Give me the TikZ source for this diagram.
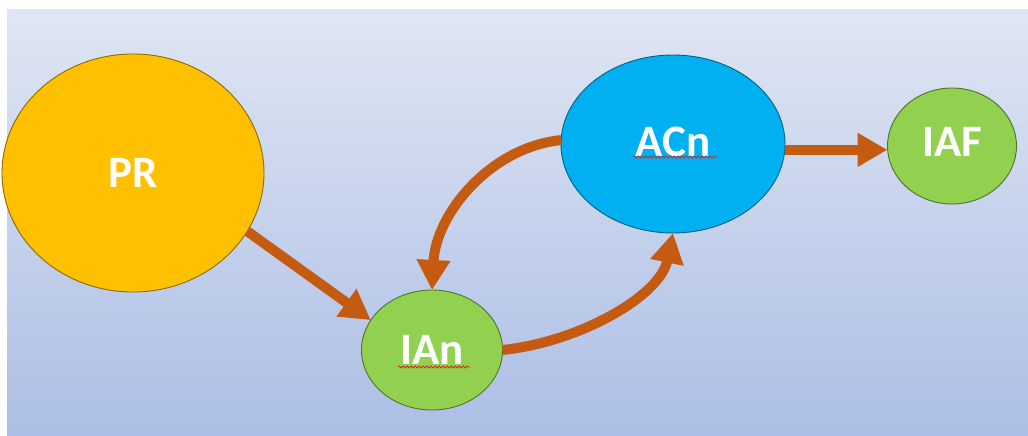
\documentclass[tikz,border=0pt]{standalone}
\usepackage{fontspec}
\newfontfamily\lblfont{Carlito}
\usetikzlibrary{shapes.geometric,arrows.meta,decorations.pathmorphing}
\definecolor{bgtop}{RGB}{223,230,243}
\definecolor{bgbot}{RGB}{172,190,229}
\definecolor{prfill}{RGB}{255,192,0}
\definecolor{grfill}{RGB}{146,208,80}
\definecolor{blfill}{RGB}{0,176,240}
\definecolor{arr}{RGB}{197,90,17}
\definecolor{squig}{RGB}{210,40,40}
\tikzset{
  blob/.style={ellipse, inner sep=0pt, outer sep=0pt, line width=0.9pt,
    text=white, font=\lblfont\bfseries\fontsize{45}{50}\selectfont},
  flow/.style={draw=arr, line width=10pt,
    -{Triangle[length=30pt,width=32pt]}},
  spell/.style={draw=squig, line width=0.8pt,
    decorate, decoration={snake, segment length=4pt, amplitude=1pt}}
}
\begin{document}
\begin{tikzpicture}[x=1pt,y=-1pt]
\useasboundingbox (0,0) rectangle (1028,436);
\fill[white] (0,0) rectangle (1028,436);
\shade[top color=bgtop, bottom color=bgbot] (7,10) rectangle (1028,436);
\begin{scope}
\clip (0,0) rectangle (1028,436);
\node[blob, fill=prfill, draw=prfill!55!black, minimum width=262pt, minimum height=238pt] (pr) at (133,173) {PR};
\end{scope}
\node[blob, fill=grfill, draw=grfill!55!black, minimum width=141pt, minimum height=120pt] (ian) at (432,350) {IAn};
\node[blob, fill=blfill, draw=blfill!55!black, minimum width=224pt, minimum height=178pt] (acn) at (673,144) {\raisebox{5pt}{ACn}};
\node[blob, fill=grfill, draw=grfill!55!black, minimum width=129pt, minimum height=116pt] (iaf) at (952,146) {\raisebox{8pt}{IAF}};
% spell-check underlines
\draw[spell] ([xshift=-34pt,yshift=-17pt]ian.center) -- ([xshift=38pt,yshift=-17pt]ian.center);
\draw[spell] ([xshift=-40pt,yshift=-13pt]acn.center) -- ([xshift=44pt,yshift=-13pt]acn.center);
% connectors
\draw[flow] (pr.-27) -- (ian.154);
\draw[flow] (acn.178) .. controls +(-70,7) and +(4,-77) .. (ian.north);
\draw[flow] (ian.east) .. controls +(77,-8) and +(-13,63) .. (acn.south);
\draw[flow] (acn.-3) -- (acn.-3 -| iaf.west);
\end{tikzpicture}
\end{document}
